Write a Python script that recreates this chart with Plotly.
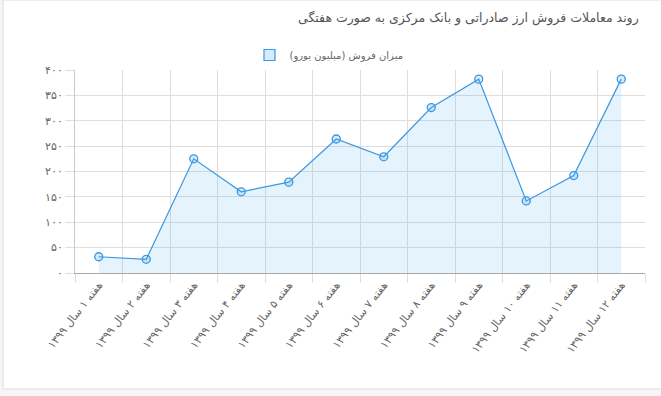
import plotly.graph_objects as go

categories = [
    "هفته ۱ سال ۱۳۹۹", "هفته ۲ سال ۱۳۹۹", "هفته ۳ سال ۱۳۹۹", "هفته ۴ سال ۱۳۹۹",
    "هفته ۵ سال ۱۳۹۹", "هفته ۶ سال ۱۳۹۹", "هفته ۷ سال ۱۳۹۹", "هفته ۸ سال ۱۳۹۹",
    "هفته ۹ سال ۱۳۹۹", "هفته ۱۰ سال ۱۳۹۹", "هفته ۱۱ سال ۱۳۹۹", "هفته ۱۲ سال ۱۳۹۹",
]
sales = [32, 27, 225, 160, 179, 264, 229, 326, 382, 142, 192, 382]
series_name = "میزان فروش (میلیون یورو)"
title_text = "روند معاملات فروش ارز صادراتی و بانک مرکزی به صورت هفتگی"
y_tick_vals = [0, 50, 100, 150, 200, 250, 300, 350, 400]
y_tick_text = ["۰", "۵۰", "۱۰۰", "۱۵۰", "۲۰۰", "۲۵۰", "۳۰۰", "۳۵۰", "۴۰۰"]

W, H = 661, 396
ML, MR, MT, MB = 75, 16, 70, 123
pw = W - ML - MR
ph = H - MT - MB

def px_x(p):
    return (p - ML) / pw

def px_y(p):
    return (H - MB - p) / ph

line_col = "#3b97e0"
fill_col = "rgba(54,162,235,0.13)"
font_fam = "DejaVu Sans, Noto Sans, sans-serif"

fig = go.Figure()
fig.add_trace(go.Scatter(
    x=categories, y=sales, mode="lines+markers",
    line=dict(color=line_col, width=1.2),
    fill="tozeroy", fillcolor=fill_col,
    marker=dict(symbol="circle", size=8, color="rgba(54,162,235,0.2)",
                line=dict(color=line_col, width=1.3)),
    showlegend=False, name=series_name,
))
fig.add_trace(go.Scatter(
    x=[None], y=[None], mode="markers", name=series_name,
    marker=dict(symbol="square", size=11, color="rgba(54,162,235,0.2)",
                line=dict(color=line_col, width=1.2)),
    showlegend=True,
))

# card
fig.add_shape(type="rect", xref="paper", yref="paper",
              x0=px_x(3), x1=px_x(W + 20), y0=px_y(389), y1=px_y(0),
              line=dict(color="#dcdcdc", width=1), fillcolor="white", layer="below")

fig.add_annotation(text=title_text, xref="paper", yref="paper",
                   x=px_x(641), y=px_y(18), xanchor="right", yanchor="middle",
                   showarrow=False, font=dict(size=12.5, color="#555", family=font_fam))

fig.update_layout(
    width=W, height=H,
    margin=dict(l=ML, r=MR, t=MT, b=MB, autoexpand=False),
    paper_bgcolor="#f6f6f6", plot_bgcolor="rgba(0,0,0,0)",
    font=dict(family=font_fam, size=11, color="#666"),
    legend=dict(orientation="h", xref="paper", yref="paper",
                x=px_x(329), xanchor="center", y=px_y(55), yanchor="middle",
                font=dict(size=10, color="#666"), bgcolor="rgba(0,0,0,0)"),
    xaxis=dict(type="category", tickson="boundaries", showgrid=True,
               gridcolor="#dedede", gridwidth=1, ticks="outside", ticklen=9,
               tickcolor="#dedede", tickangle=-52, showline=True,
               linecolor="#a8a8a8", linewidth=1.2, tickfont=dict(size=11, color="#666"),
               range=[-0.5, len(categories) - 0.5], zeroline=False, automargin=False),
    yaxis=dict(range=[0, 400], tickvals=y_tick_vals, ticktext=y_tick_text,
               showgrid=True, gridcolor="#dedede", gridwidth=1, ticks="outside",
               ticklen=9, tickcolor="#dedede", showline=True, linecolor="#c8c8c8",
               zeroline=False, tickfont=dict(size=11, color="#666"), automargin=False),
)

fig.write_html("out.html", config={"displayModeBar": False},
               post_script="document.body.style.margin='0';")
